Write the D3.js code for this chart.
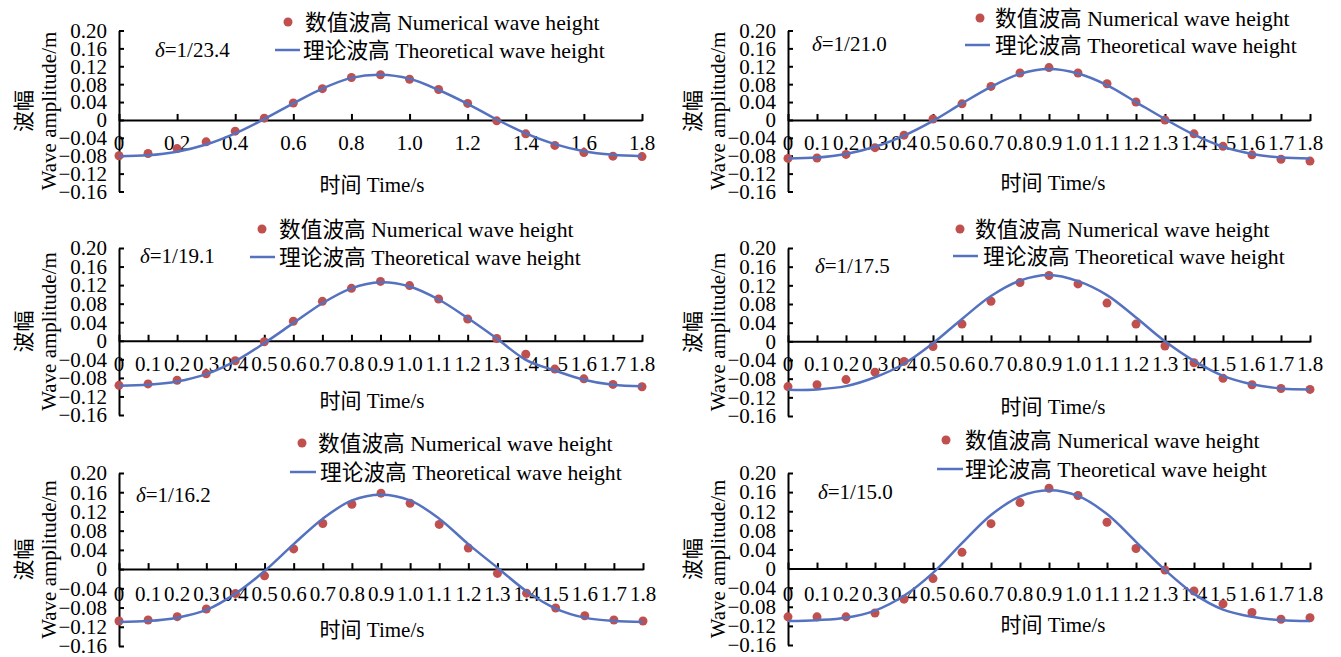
<!DOCTYPE html>
<html>
<head>
<meta charset="utf-8">
<script src="https://cdn.jsdelivr.net/npm/d3@7"></script>
<style>
  body { margin: 0; background: #fff; }
</style>
</head>
<body>
<div id="chart"></div>
<script>
// ---- data ----
const times = [0, 0.1, 0.2, 0.3, 0.4, 0.5, 0.6, 0.7, 0.8, 0.9, 1.0, 1.1, 1.2, 1.3, 1.4, 1.5, 1.6, 1.7, 1.8];

const yTickValues = [-0.16, -0.12, -0.08, -0.04, 0, 0.04, 0.08, 0.12, 0.16, 0.20];
const yTickLabels = ["\u22120.16", "\u22120.12", "\u22120.08", "\u22120.04", "0", "0.04", "0.08", "0.12", "0.16", "0.20"];

const xTicksCoarse = [0, 0.2, 0.4, 0.6, 0.8, 1.0, 1.2, 1.4, 1.6, 1.8];
const xLabelsCoarse = ["0", "0.2", "0.4", "0.6", "0.8", "1.0", "1.2", "1.4", "1.6", "1.8"];
const xTicksFine = times;
const xLabelsFine = ["0", "0.1", "0.2", "0.3", "0.4", "0.5", "0.6", "0.7", "0.8", "0.9", "1.0", "1.1", "1.2", "1.3", "1.4", "1.5", "1.6", "1.7", "1.8"];

const deltas = ["1/23.4", "1/21.0", "1/19.1", "1/17.5", "1/16.2", "1/15.0"];

const numerical1 = [-0.080, -0.075, -0.064, -0.049, -0.025, 0.004, 0.038, 0.070, 0.095, 0.101, 0.091, 0.068, 0.037, -0.002, -0.031, -0.057, -0.073, -0.081, -0.082];
const theoretical1 = [-0.081, -0.079, -0.071, -0.055, -0.030, 0.002, 0.037, 0.070, 0.094, 0.101, 0.092, 0.067, 0.036, 0.001, -0.030, -0.054, -0.070, -0.078, -0.081];

const numerical2 = [-0.086, -0.085, -0.077, -0.062, -0.034, 0.002, 0.036, 0.075, 0.105, 0.117, 0.105, 0.081, 0.040, 0.000, -0.031, -0.059, -0.078, -0.088, -0.092];
const theoretical2 = [-0.086, -0.084, -0.076, -0.060, -0.035, -0.002, 0.037, 0.074, 0.103, 0.114, 0.104, 0.078, 0.040, 0.002, -0.033, -0.060, -0.076, -0.084, -0.086];

const numerical3 = [-0.096, -0.093, -0.085, -0.071, -0.043, -0.002, 0.042, 0.085, 0.113, 0.128, 0.119, 0.090, 0.047, 0.005, -0.029, -0.061, -0.082, -0.094, -0.099];
const theoretical3 = [-0.097, -0.095, -0.088, -0.072, -0.044, -0.005, 0.038, 0.081, 0.113, 0.126, 0.117, 0.089, 0.049, 0.005, -0.041, -0.064, -0.084, -0.095, -0.098];

const numerical4 = [-0.097, -0.093, -0.082, -0.066, -0.043, -0.011, 0.037, 0.086, 0.126, 0.141, 0.123, 0.082, 0.037, -0.010, -0.046, -0.079, -0.093, -0.101, -0.103];
const theoretical4 = [-0.104, -0.103, -0.096, -0.077, -0.048, -0.004, 0.048, 0.097, 0.130, 0.142, 0.129, 0.099, 0.051, 0.000, -0.042, -0.074, -0.092, -0.101, -0.103];

const numerical5 = [-0.108, -0.106, -0.099, -0.083, -0.051, -0.014, 0.042, 0.095, 0.135, 0.158, 0.137, 0.093, 0.044, -0.009, -0.050, -0.081, -0.097, -0.106, -0.108];
const theoretical5 = [-0.110, -0.108, -0.101, -0.085, -0.051, -0.004, 0.052, 0.105, 0.143, 0.155, 0.143, 0.105, 0.052, 0.003, -0.046, -0.082, -0.101, -0.108, -0.110];

const numerical6 = [-0.101, -0.101, -0.101, -0.093, -0.064, -0.021, 0.034, 0.094, 0.138, 0.168, 0.153, 0.097, 0.042, -0.003, -0.047, -0.074, -0.092, -0.106, -0.103];
const theoretical6 = [-0.110, -0.108, -0.103, -0.088, -0.057, -0.009, 0.053, 0.112, 0.151, 0.164, 0.152, 0.114, 0.056, -0.003, -0.053, -0.086, -0.101, -0.108, -0.110];

const legendNumerical = "数值波高 Numerical wave height";
const legendTheoretical = "理论波高 Theoretical wave height";
const xTitle = "时间 Time/s";
const yTitleCn = "波幅";
const yTitleEn = "Wave amplitude/m";

// ---- layout (pixel positions of each panel) ----
const layout = [
  { x0: 119, x1: 642, top: 30.5, bot: 191.5, labOff: 30, titleX: 372, titleY: 192, dot: [288, 22], txt1: 305, leg2: [275, 300, 50], txt2: 303, delta: [155, 57], coarse: true },
  { x0: 788, x1: 1310, top: 30.5, bot: 191.5, labOff: 30, titleX: 1053, titleY: 190, dot: [980, 18], txt1: 995, leg2: [965, 990, 45], txt2: 995, delta: [812, 51] },
  { x0: 119, x1: 642, top: 248, bot: 415, labOff: 30, titleX: 372, titleY: 408, dot: [262, 229], txt1: 279, leg2: [250, 275, 257], txt2: 279, delta: [140, 263] },
  { x0: 788, x1: 1310, top: 248, bot: 416, labOff: 30, titleX: 1053, titleY: 414, dot: [960, 229], txt1: 975, leg2: [953, 978, 256], txt2: 983, delta: [815, 273] },
  { x0: 119, x1: 643, top: 473, bot: 646, labOff: 32, titleX: 372, titleY: 637, dot: [302, 443], txt1: 318, leg2: [290, 316, 472], txt2: 320, delta: [136, 502] },
  { x0: 788, x1: 1310, top: 473, bot: 645, labOff: 32, titleX: 1053, titleY: 632, dot: [946, 440], txt1: 965, leg2: [937, 963, 469], txt2: 965, delta: [818, 499] }
];

const series = [
  [numerical1, theoretical1],
  [numerical2, theoretical2],
  [numerical3, theoretical3],
  [numerical4, theoretical4],
  [numerical5, theoretical5],
  [numerical6, theoretical6]
];

const dotColor = "#c0504d";
const lineColor = "#5572c0";
const fontSize = 21;
const legendFontSize = 21.7;
const fontFamily = "'Liberation Serif', 'Times New Roman', 'DejaVu Serif', 'Noto Sans CJK SC', serif";

const svg = d3.select("#chart")
  .append("svg")
    .attr("width", 1341)
    .attr("height", 657)
    .style("font-family", fontFamily);

layout.forEach((p, i) => {
  const [num, theo] = series[i];
  const g = svg.append("g");

  const x = d3.scaleLinear().domain([0, 1.8]).range([p.x0, p.x1]);
  const y = d3.scaleLinear().domain([-0.16, 0.20]).range([p.bot, p.top]);
  const y0 = y(0);

  // Y axis
  const yAxis = g.append("g")
    .attr("transform", `translate(${p.x0},0)`)
    .call(d3.axisRight(y)
      .tickValues(yTickValues)
      .tickFormat("")
      .tickSize(5)
      .tickSizeOuter(0));
  yAxis.select(".domain").attr("stroke", "#000").attr("stroke-width", 2);
  yAxis.selectAll(".tick line").attr("stroke", "#000").attr("stroke-width", 2);

  g.selectAll(".ylab")
    .data(yTickValues)
    .enter()
    .append("text")
      .attr("x", p.x0 - 12)
      .attr("y", d => y(d))
      .attr("dy", "0.35em")
      .attr("text-anchor", "end")
      .style("font-family", fontFamily)
      .style("font-size", fontSize + "px")
      .text((d, k) => yTickLabels[k]);

  // X axis at zero line
  const xt = p.coarse ? xTicksCoarse : xTicksFine;
  const xl = p.coarse ? xLabelsCoarse : xLabelsFine;
  const xAxis = g.append("g")
    .attr("transform", `translate(0,${y0})`)
    .call(d3.axisTop(x)
      .tickValues(xt)
      .tickFormat("")
      .tickSize(6)
      .tickSizeOuter(0));
  xAxis.select(".domain").attr("stroke", "#000").attr("stroke-width", 2);
  xAxis.selectAll(".tick line").attr("stroke", "#000").attr("stroke-width", 2).attr("y2", -6).attr("y1", 1);

  g.selectAll(".xlab")
    .data(xt)
    .enter()
    .append("text")
      .attr("x", d => x(d))
      .attr("y", y0 + p.labOff)
      .attr("text-anchor", "middle")
      .style("font-family", fontFamily)
      .style("font-size", fontSize + "px")
      .text((d, k) => xl[k]);

  // axis titles
  g.append("text")
    .attr("x", p.titleX)
    .attr("y", p.titleY)
    .attr("text-anchor", "middle")
    .style("font-family", fontFamily)
    .style("font-size", fontSize + "px")
    .text(xTitle);

  const yMid = (p.top + p.bot) / 2;
  g.append("text")
    .attr("transform", `translate(${p.x0 - 88},${yMid}) rotate(-90)`)
    .attr("text-anchor", "middle")
    .style("font-family", fontFamily)
    .style("font-size", fontSize + "px")
    .text(yTitleCn);
  g.append("text")
    .attr("transform", `translate(${p.x0 - 63},${yMid}) rotate(-90)`)
    .attr("text-anchor", "middle")
    .style("font-family", fontFamily)
    .style("font-size", fontSize + "px")
    .text(yTitleEn);

  // numerical points
  g.selectAll(".pt")
    .data(num)
    .enter()
    .append("circle")
      .attr("cx", (d, k) => x(times[k]))
      .attr("cy", d => y(d))
      .attr("r", 4.5)
      .attr("fill", dotColor);

  // theoretical curve
  const line = d3.line()
    .x((d, k) => x(times[k]))
    .y(d => y(d))
    .curve(d3.curveCatmullRom.alpha(0.5));
  g.append("path")
    .datum(theo)
    .attr("d", line)
    .attr("fill", "none")
    .attr("stroke", lineColor)
    .attr("stroke-width", 2.5);

  // legend
  g.append("circle")
    .attr("cx", p.dot[0])
    .attr("cy", p.dot[1])
    .attr("r", 4.5)
    .attr("fill", dotColor);
  g.append("text")
    .attr("x", p.txt1)
    .attr("y", p.dot[1])
    .attr("dy", "0.35em")
    .style("font-family", fontFamily)
    .style("font-size", legendFontSize + "px")
    .text(legendNumerical);
  g.append("line")
    .attr("x1", p.leg2[0]).attr("x2", p.leg2[1])
    .attr("y1", p.leg2[2]).attr("y2", p.leg2[2])
    .attr("stroke", lineColor)
    .attr("stroke-width", 2.5);
  g.append("text")
    .attr("x", p.txt2)
    .attr("y", p.leg2[2])
    .attr("dy", "0.35em")
    .style("font-family", fontFamily)
    .style("font-size", legendFontSize + "px")
    .text(legendTheoretical);

  // delta annotation
  const dt = g.append("text")
    .attr("x", p.delta[0])
    .attr("y", p.delta[1])
    .style("font-family", fontFamily)
    .style("font-size", fontSize + "px");
  dt.append("tspan").style("font-style", "italic").text("\u03b4");
  dt.append("tspan").text("=" + deltas[i]);
});
</script>
</body>
</html>
